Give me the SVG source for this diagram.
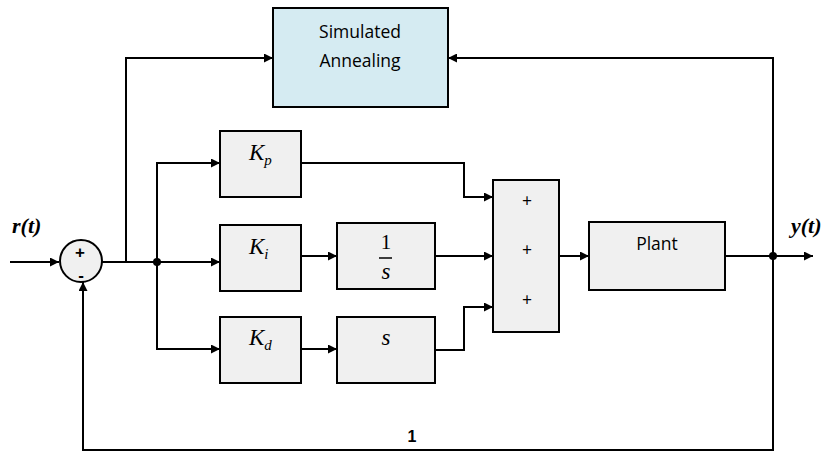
<svg xmlns="http://www.w3.org/2000/svg" width="830" height="455" viewBox="0 0 830 455">
<defs>
<marker id="arr" viewBox="0 0 10 10" refX="10" refY="5" markerWidth="11" markerHeight="9" markerUnits="userSpaceOnUse" orient="auto">
<path d="M0,0 L10,5 L0,10 Z" fill="#000"/>
</marker>
<style>
.box{fill:#f0f0f0;stroke:#000;stroke-width:2}
.sa{fill:#d5ebf2;stroke:#000;stroke-width:2}
.w{fill:none;stroke:#000;stroke-width:2}
.m{font-family:"Liberation Serif",serif;font-style:italic;font-size:23px;fill:#000}
.sub{font-family:"Liberation Serif",serif;font-style:italic;font-size:15px}
.t{font-family:"Open Sans","Liberation Sans",sans-serif;font-size:17.5px;fill:#000}
.b{font-family:"Liberation Serif",serif;font-weight:bold;font-style:italic;font-size:22px;fill:#000}
</style>
</defs>
<rect width="830" height="455" fill="#fff"/>
<g id="connectors" class="w">
<path d="M10,262 H59" marker-end="url(#arr)"/>
<path d="M102,262 H220" marker-end="url(#arr)"/>
<path d="M126,262 V58 H273" marker-end="url(#arr)"/>
<path d="M157,262 V163 H220" marker-end="url(#arr)"/>
<path d="M157,262 V349 H220" marker-end="url(#arr)"/>
<path d="M301,163 H464 V197 H493" marker-end="url(#arr)"/>
<path d="M301,256 H337" marker-end="url(#arr)"/>
<path d="M435,256 H493" marker-end="url(#arr)"/>
<path d="M301,349 H337" marker-end="url(#arr)"/>
<path d="M435,350 H464 V307 H493" marker-end="url(#arr)"/>
<path d="M559,256 H589" marker-end="url(#arr)"/>
<path d="M725,256 H813" marker-end="url(#arr)"/>
<path d="M773,256 V58 H448" marker-end="url(#arr)"/>
<path d="M773,256 V450 H83 V282" marker-end="url(#arr)"/>
<circle cx="157" cy="262" r="4" fill="#000" stroke="none"/>
<circle cx="773" cy="256" r="4" fill="#000" stroke="none"/>
</g>
<g id="sum1">
<circle cx="81" cy="261" r="21" class="box"/>
<text x="80" y="258" text-anchor="middle" font-family="Liberation Sans,sans-serif" font-weight="bold" font-size="17">+</text>
<text x="81" y="281" text-anchor="middle" font-family="Liberation Sans,sans-serif" font-weight="bold" font-size="17">-</text>
</g>
<g id="sa">
<rect x="273" y="8" width="175" height="99" class="sa"/>
<text x="360" y="38" text-anchor="middle" class="t">Simulated</text>
<text x="360" y="67" text-anchor="middle" class="t">Annealing</text>
</g>
<g id="kp">
<rect x="220" y="131" width="81" height="66" class="box"/>
<text x="249" y="160" class="m">K<tspan class="sub" dy="5">p</tspan></text>
</g>
<g id="ki">
<rect x="220" y="225" width="81" height="66" class="box"/>
<text x="249" y="254" class="m">K<tspan class="sub" dy="5">i</tspan></text>
</g>
<g id="kd">
<rect x="220" y="317" width="81" height="66" class="box"/>
<text x="249" y="345" class="m">K<tspan class="sub" dy="5">d</tspan></text>
</g>
<g id="integ">
<rect x="337" y="223" width="98" height="66" class="box"/>
<text x="386" y="249" text-anchor="middle" font-family="Liberation Serif,serif" font-size="21">1</text>
<line x1="379" y1="258" x2="392" y2="258" stroke="#000" stroke-width="1.5"/>
<text x="386" y="279" text-anchor="middle" class="m">s</text>
</g>
<g id="deriv">
<rect x="337" y="317" width="98" height="66" class="box"/>
<text x="386" y="345" text-anchor="middle" class="m">s</text>
</g>
<g id="sum2">
<rect x="493" y="180" width="66" height="152" class="box"/>
<text x="527" y="207" text-anchor="middle" class="t" font-size="16">+</text>
<text x="527" y="256" text-anchor="middle" class="t" font-size="16">+</text>
<text x="527" y="306" text-anchor="middle" class="t" font-size="16">+</text>
</g>
<g id="plant">
<rect x="589" y="222" width="136" height="68" class="box"/>
<text x="657" y="250" text-anchor="middle" class="t">Plant</text>
</g>
<g id="labels">
<text x="12" y="233" class="b">r(t)</text>
<text x="791" y="233" class="b">y(t)</text>
<text x="412" y="442" text-anchor="middle" font-family="Liberation Sans,sans-serif" font-weight="bold" font-size="16">1</text>
</g>
</svg>
